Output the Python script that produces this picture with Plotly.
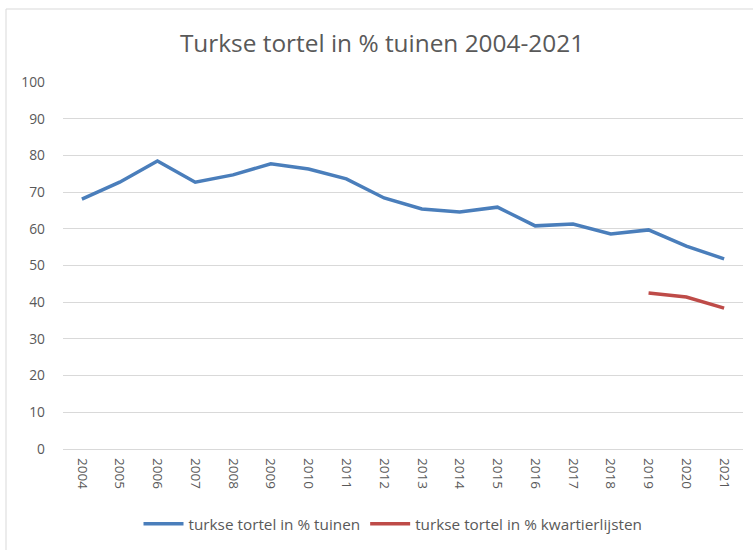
import plotly.graph_objects as go

years = [str(y) for y in range(2004, 2022)]
tuinen = [68.1, 72.7, 78.5, 72.7, 74.7, 77.7, 76.3, 73.6, 68.4, 65.4, 64.6, 65.9,
          60.8, 61.3, 58.6, 59.7, 55.3, 51.8]
kwartier_years = ["2019", "2020", "2021"]
kwartier = [42.5, 41.4, 38.4]
y_ticks = list(range(0, 101, 10))

font_family = "Open Sans, sans-serif"
grey = "#595959"

fig = go.Figure()
fig.add_trace(go.Scatter(x=years, y=tuinen, mode="lines",
                         name="turkse tortel in % tuinen",
                         line=dict(color="#4a7ebb", width=3.5)))
fig.add_trace(go.Scatter(x=kwartier_years, y=kwartier, mode="lines",
                         name="turkse tortel in % kwartierlijsten",
                         line=dict(color="#be4b48", width=3.5)))

fig.update_layout(
    width=753, height=550,
    margin=dict(l=63, r=10, t=82, b=101),
    paper_bgcolor="white", plot_bgcolor="white",
    title=dict(text="Turkse tortel in % tuinen 2004-2021", x=382 / 753, xanchor="center",
               y=1 - 43 / 550, yanchor="middle",
               font=dict(family=font_family, size=24.4, color=grey)),
    font=dict(family=font_family, size=13, color=grey),
    showlegend=True,
    legend=dict(orientation="h", x=(393 - 63) / 680, xanchor="center", y=-0.204,
                yanchor="middle", font=dict(size=15.3, color=grey), itemwidth=40),
    xaxis=dict(type="category", categoryorder="array", categoryarray=years,
               range=[-0.5, 17.5], tickangle=90, showgrid=False, showline=False,
               ticks="", tickfont=dict(size=13.5, color=grey), ticklabelstandoff=8),
    yaxis=dict(range=[0, 100], tickvals=y_ticks, showgrid=True, gridcolor="#d9d9d9",
               gridwidth=1, zeroline=True, zerolinecolor="#d9d9d9", zerolinewidth=1,
               ticks="", ticklen=0, tickfont=dict(size=13.8, color=grey),
               ticklabelstandoff=17),
    shapes=[dict(type="rect", xref="paper", yref="paper",
                 x0=(6 - 63) / 680, x1=(790 - 63) / 680,
                 y0=(449 - 600) / 367, y1=(449 - 9) / 367,
                 line=dict(color="#d9d9d9", width=1), fillcolor="rgba(0,0,0,0)",
                 layer="below")],
)

fig.write_html("out.html", config={"displayModeBar": False},
               post_script="document.body.style.margin='0';")
